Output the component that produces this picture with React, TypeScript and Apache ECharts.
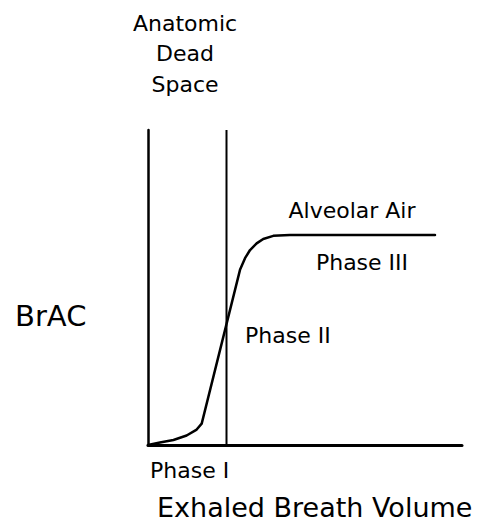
import React, { useEffect, useRef } from "react";
import * as echarts from "echarts";

// Curve: [exhaled volume, BrAC] in arbitrary units (0-100)
const curveX = [0, 3.8, 8.1, 12.3, 15.5, 17.1, 29.3, 30.9, 32.5, 34.6, 36.7, 39.9, 45.2, 91.4];
const curveY = [0, 0.8, 1.6, 3.0, 4.9, 6.8, 55.6, 59.3, 61.9, 64.0, 65.4, 66.4, 66.7, 66.7];
const deadSpaceX = 25;

const titleLines = ["Anatomic", "Dead", "Space"];
const xAxisTitle = "Exhaled Breath Volume";
const yAxisTitle = "BrAC";
const phaseLabels = ["Phase I", "Phase II", "Phase III"];
const plateauLabel = "Alveolar Air";

const FONT = "DejaVu Sans";

export default function App() {
  const ref = useRef<HTMLDivElement>(null);
  useEffect(() => {
    document.body.style.margin = "0";
    const chart = echarts.init(ref.current!, null, { renderer: "svg" });
    const txt = (text: string, x: number, y: number, size: number, align: string = "center") => ({
      type: "text",
      x,
      y,
      style: {
        text,
        fill: "#000",
        font: `${size}px "${FONT}"`,
        textAlign: align,
        textVerticalAlign: "middle",
      },
    });
    chart.setOption({
      animation: false,
      backgroundColor: "#fff",
      grid: { left: 148, top: 130, width: 314, height: 315, containLabel: false },
      xAxis: {
        type: "value",
        min: 0,
        max: 100,
        axisLine: { show: true, onZero: false, lineStyle: { color: "#000", width: 3 } },
        axisTick: { show: false },
        axisLabel: { show: false },
        splitLine: { show: false },
      },
      yAxis: {
        type: "value",
        min: 0,
        max: 100,
        axisLine: { show: true, onZero: false, lineStyle: { color: "#000", width: 2.5 } },
        axisTick: { show: false },
        axisLabel: { show: false },
        splitLine: { show: false },
      },
      series: [
        {
          type: "line",
          data: curveX.map((x, i) => [x, curveY[i]]),
          showSymbol: false,
          symbol: "none",
          lineStyle: { color: "#000", width: 2.5, join: "round", cap: "round" },
          z: 3,
        },
        {
          type: "line",
          data: [
            [deadSpaceX, 0],
            [deadSpaceX, 100],
          ],
          symbol: "none",
          lineStyle: { color: "#000", width: 2 },
          z: 2,
        },
      ],
      graphic: [
        txt(titleLines[0], 185, 23, 22),
        txt(titleLines[1], 185, 53, 22),
        txt(titleLines[2], 185, 84, 22),
        txt(plateauLabel, 352, 210, 22),
        txt(phaseLabels[2], 362, 262, 22),
        txt(phaseLabels[1], 245, 335, 22, "left"),
        txt(phaseLabels[0], 150, 470, 22, "left"),
        txt(yAxisTitle, 15, 316, 29, "left"),
        txt(xAxisTitle, 157, 507, 27, "left"),
      ],
    });
    return () => chart.dispose();
  }, []);
  return <div ref={ref} style={{ width: 477, height: 521 }} />;
}
